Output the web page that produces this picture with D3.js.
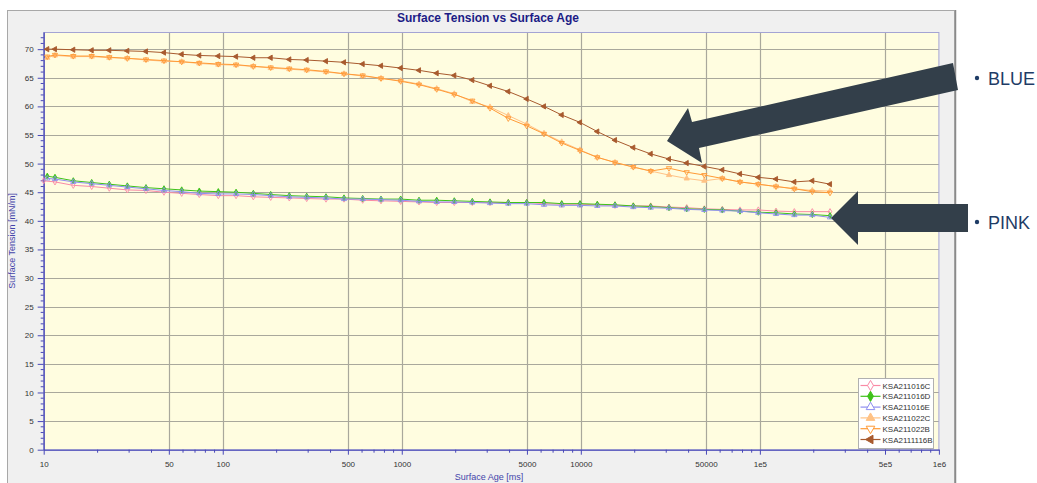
<!DOCTYPE html>
<html>
<head>
<meta charset="utf-8">
<script src="https://d3js.org/d3.v7.min.js"></script>
<style>
  body { margin: 0; background: #fff; }
  .chart text { font-family: "Liberation Sans", Arial, sans-serif; }
</style>
</head>
<body>
<div class="chart"></div>
<script>
// surface age in ms (shared by all runs)
var ages = [10.47, 11.56, 14.63, 18.54, 23.25, 29.31, 37.27, 46.97, 58.99, 73.97,
            94.45, 118.7, 148.2, 185.3, 235.4, 294.4, 377.3, 475.7, 604.9, 765.6,
            986, 1248, 1567, 1965, 2477, 3110, 3935, 4985, 6228, 7821,
            9895, 12360, 15520, 19640, 24570, 31080, 39030, 48950, 61700, 77460,
            98000, 123100, 155800, 196300, 246500];
// the first pink point sits right on the axis
var agesPink = [10].concat(ages.slice(1));

var seriesNames = ["KSA211016C", "KSA211016D", "KSA211016E", "KSA211022C", "KSA211022B", "KSA2111116B"];

var valsC16 = [47.0, 46.8, 46.2, 46.0, 45.7, 45.4, 45.3, 45.0, 44.8, 44.6,
               44.4, 44.4, 44.2, 44.1, 44.0, 43.9, 43.8, 43.8, 43.6, 43.5,
               43.4, 43.3, 43.2, 43.2, 43.2, 43.2, 43.2, 43.2, 43.0, 42.9,
               42.9, 42.8, 42.7, 42.6, 42.6, 42.4, 42.3, 42.1, 42.0, 41.9,
               41.9, 41.7, 41.6, 41.6, 41.6];
var valsD16 = [47.8, 47.6, 47.0, 46.7, 46.4, 46.1, 45.8, 45.6, 45.4, 45.2,
               45.1, 45.0, 44.8, 44.6, 44.4, 44.3, 44.2, 44.0, 43.9, 43.8,
               43.8, 43.6, 43.6, 43.5, 43.4, 43.3, 43.2, 43.2, 43.2, 43.0,
               43.0, 42.9, 42.8, 42.6, 42.5, 42.3, 42.1, 42.0, 41.9, 41.7,
               41.5, 41.4, 41.2, 41.1, 40.9];
var valsE16 = [47.4, 47.3, 46.8, 46.5, 46.2, 45.9, 45.6, 45.3, 45.1, 44.8,
               44.7, 44.7, 44.6, 44.4, 44.2, 44.1, 44.0, 43.8, 43.8, 43.7,
               43.6, 43.4, 43.3, 43.3, 43.2, 43.1, 43.0, 43.0, 42.8, 42.7,
               42.7, 42.6, 42.6, 42.4, 42.3, 42.2, 42.0, 41.9, 41.8, 41.7,
               41.4, 41.2, 41.0, 41.0, 40.6];
var valsC22 = [68.5, 68.9, 68.7, 68.7, 68.5, 68.4, 68.1, 67.9, 67.8, 67.5,
               67.3, 67.2, 67.0, 66.7, 66.5, 66.3, 66.0, 65.7, 65.3, 64.9,
               64.5, 63.9, 63.1, 62.2, 60.8, 59.9, 58.4, 56.9, 55.3, 53.8,
               52.4, 51.1, 50.2, 49.4, 48.7, 48.0, 47.4, 47.0, 47.4, 46.8,
               46.4, 46.0, 45.6, 45.3, 45.2];
var valsB22 = [68.7, 69.0, 68.8, 68.8, 68.6, 68.4, 68.2, 68.0, 67.8, 67.6,
               67.4, 67.3, 67.0, 66.8, 66.6, 66.4, 66.1, 65.7, 65.4, 64.9,
               64.4, 63.8, 63.0, 62.1, 61.0, 59.7, 57.9, 56.6, 55.2, 53.6,
               52.3, 51.1, 50.2, 49.4, 48.7, 49.2, 48.5, 48.0, 47.4, 46.8,
               46.4, 46.0, 45.6, 45.1, 44.9];
var valsB11 = [70.0, 70.0, 69.9, 69.8, 69.8, 69.7, 69.6, 69.4, 69.1, 68.9,
               68.8, 68.7, 68.5, 68.5, 68.2, 68.1, 67.9, 67.7, 67.4, 67.1,
               66.7, 66.3, 65.8, 65.4, 64.6, 63.6, 62.6, 61.3, 60.0, 58.5,
               57.2, 55.6, 54.1, 52.8, 51.7, 50.8, 50.1, 49.5, 48.9, 48.2,
               47.6, 47.3, 46.8, 47.0, 46.4];

var xTicks = [10, 50, 100, 500, 1000, 5000, 10000, 50000, 1e5, 5e5, 1e6];
var xTickLabels = ["10", "50", "100", "500", "1000", "5000", "10000", "50000", "1e5", "5e5", "1e6"];
var yTicks = [0, 5, 10, 15, 20, 25, 30, 35, 40, 45, 50, 55, 60, 65, 70];

var width = 1037;
var height = 483;
var plotLeft = 43.7, plotRight = 938.9, plotTop = 32, plotBottom = 449.7;

var series = [
  { name: seriesNames[0], x: agesPink, y: valsC16, color: "#f98aa6", shape: d3.symbolDiamond, rot: 0, filled: false },
  { name: seriesNames[1], x: ages, y: valsD16, color: "#3fc21a", shape: d3.symbolDiamond, rot: 0, filled: true },
  { name: seriesNames[2], x: ages, y: valsE16, color: "#8f8ff0", shape: d3.symbolTriangle, rot: 0, filled: false },
  { name: seriesNames[3], x: ages, y: valsC22, color: "#ffc285", shape: d3.symbolTriangle, rot: 0, filled: true },
  { name: seriesNames[4], x: ages, y: valsB22, color: "#ff9a35", shape: d3.symbolTriangle, rot: 180, filled: false },
  { name: seriesNames[5], x: ages, y: valsB11, color: "#a85a2e", shape: d3.symbolTriangle, rot: -90, filled: true }
];

var xScale = d3.scaleLog().domain([10, 1e6]).range([plotLeft, plotRight]);
var yScale = d3.scaleLinear().domain([0, 73]).range([plotBottom, plotTop]);

var svg = d3.select(".chart")
            .append("svg")
            .attr("width", width)
            .attr("height", height);

svg.append("rect").attr("width", width).attr("height", height).attr("fill", "#fff");

// gray chart panel
svg.append("rect")
   .attr("x", 7.5).attr("y", 10.5)
   .attr("width", 947).attr("height", 480)
   .attr("fill", "#f0f0f0")
   .attr("stroke", "#a8a8a8");
svg.append("line")
   .attr("x1", 955.5).attr("x2", 955.5).attr("y1", 10).attr("y2", height)
   .attr("stroke", "#8a8a8a").attr("stroke-width", 1.5);

svg.append("text")
   .attr("x", 488).attr("y", 22)
   .attr("text-anchor", "middle")
   .attr("font-size", "12px")
   .attr("font-weight", "bold")
   .attr("fill", "#1c1c86")
   .text("Surface Tension vs Surface Age");

// plot area
svg.append("rect")
   .attr("x", plotLeft).attr("y", plotTop)
   .attr("width", plotRight - plotLeft).attr("height", plotBottom - plotTop)
   .attr("fill", "#fffde0");

// grid
var gridX = xTicks.slice(1, -1);
svg.append("g").selectAll("line")
   .data(gridX).enter().append("line")
   .attr("x1", d => Math.round(xScale(d)) + 0.5).attr("x2", d => Math.round(xScale(d)) + 0.5)
   .attr("y1", plotTop).attr("y2", plotBottom)
   .attr("stroke", "#a9a89c").attr("stroke-width", 1.2);
svg.append("g").selectAll("line")
   .data(yTicks.slice(1)).enter().append("line")
   .attr("x1", plotLeft).attr("x2", plotRight)
   .attr("y1", d => Math.round(yScale(d)) + 0.5).attr("y2", d => Math.round(yScale(d)) + 0.5)
   .attr("stroke", "#a9a89c").attr("stroke-width", 1.2);

svg.append("rect")
   .attr("x", plotLeft).attr("y", plotTop + 0.5)
   .attr("width", plotRight - plotLeft).attr("height", plotBottom - plotTop)
   .attr("fill", "none")
   .attr("stroke", "#a4a4d4");

// axes
var xAxis = d3.axisBottom(xScale)
              .tickValues(xTicks)
              .tickFormat((d, i) => xTickLabels[i])
              .tickSizeInner(5).tickSizeOuter(0).tickPadding(7);
var yAxis = d3.axisLeft(yScale)
              .tickValues(yTicks)
              .tickSizeInner(6).tickSizeOuter(0).tickPadding(4);

var gx = svg.append("g")
   .attr("id", "x-axis")
   .attr("transform", "translate(0," + plotBottom + ")")
   .call(xAxis);
var gy = svg.append("g")
   .attr("id", "y-axis")
   .attr("transform", "translate(" + plotLeft + ",0)")
   .call(yAxis);

[gx, gy].forEach(function(g) {
  g.select(".domain").attr("stroke", "#4848b8").attr("stroke-width", 1.3);
  g.selectAll(".tick line").attr("stroke", "#4848b8");
  g.selectAll(".tick text").attr("fill", "#333").attr("font-size", "8px");
});

// minor ticks
var xMinor = [];
[10, 100, 1000, 10000, 1e5].forEach(function(dec) {
  [2, 3, 4, 6, 7, 8, 9].forEach(function(m) { xMinor.push(dec * m); });
});
svg.append("g").selectAll("line")
   .data(xMinor).enter().append("line")
   .attr("x1", d => xScale(d)).attr("x2", d => xScale(d))
   .attr("y1", plotBottom).attr("y2", plotBottom + 3)
   .attr("stroke", "#4848b8");
svg.append("g").selectAll("line")
   .data(d3.range(0, 73).filter(d => d % 5 !== 0)).enter().append("line")
   .attr("x1", plotLeft - 3).attr("x2", plotLeft)
   .attr("y1", d => yScale(d)).attr("y2", d => yScale(d))
   .attr("stroke", "#4848b8");

svg.append("text")
   .attr("transform", "translate(15," + ((plotTop + plotBottom) / 2) + ") rotate(-90)")
   .attr("text-anchor", "middle")
   .attr("font-size", "9px")
   .attr("fill", "#4444aa")
   .text("Surface Tension [mN/m]");
svg.append("text")
   .attr("x", 489).attr("y", 480)
   .attr("text-anchor", "middle")
   .attr("font-size", "9px")
   .attr("fill", "#4444aa")
   .text("Surface Age [ms]");

// series
var line = d3.line().x(d => xScale(d[0])).y(d => yScale(d[1]));
series.forEach(function(s) {
  var pts = s.x.map((a, i) => [a, s.y[i]]);
  var g = svg.append("g").attr("class", "series");
  g.append("path")
   .datum(pts)
   .attr("d", line)
   .attr("fill", "none")
   .attr("stroke", s.color)
   .attr("stroke-width", 1);
  g.selectAll("path.pt")
   .data(pts).enter().append("path")
   .attr("class", "pt")
   .attr("d", d3.symbol().type(s.shape).size(s.shape === d3.symbolDiamond ? 11 : 12))
   .attr("transform", d => "translate(" + xScale(d[0]) + "," + yScale(d[1]) + ") rotate(" + s.rot + ")")
   .attr("fill", s.filled ? s.color : "none")
   .attr("stroke", s.color)
   .attr("stroke-width", 0.9);
});

// legend
var legend = svg.append("g").attr("transform", "translate(858.5,378.5)");
legend.append("rect")
   .attr("width", 75).attr("height", 70)
   .attr("fill", "#fff")
   .attr("stroke", "#b0b0b0");
var rows = legend.selectAll("g.row")
   .data(series).enter().append("g")
   .attr("class", "row")
   .attr("transform", (d, i) => "translate(0," + (7 + i * 10.8) + ")");
rows.append("line")
   .attr("x1", 2).attr("x2", 22)
   .attr("stroke", d => d.color).attr("stroke-width", 1.2);
rows.append("path")
   .attr("d", d => d3.symbol().type(d.shape).size(d.shape === d3.symbolDiamond ? 30 : 32)())
   .attr("transform", d => "translate(12,0) rotate(" + d.rot + ")")
   .attr("fill", d => d.filled ? d.color : "#fff")
   .attr("stroke", d => d.color);
rows.append("text")
   .attr("x", 24).attr("y", 3)
   .attr("font-size", "8px")
   .attr("fill", "#333")
   .text(d => d.name);

// annotation arrows
svg.append("path")
   .attr("d", "M667,141 L688,108 L692,122 L953,63 L958,90 L699,148 L702,163 Z")
   .attr("fill", "#333f4a");
svg.append("path")
   .attr("d", "M831,218 L858,191 L858,204 L968,204 L968,232 L858,232 L858,245 Z")
   .attr("fill", "#333f4a");

var notes = [["BLUE", 78], ["PINK", 222]];
notes.forEach(function(n) {
  svg.append("circle").attr("cx", 977).attr("cy", n[1]).attr("r", 2.2).attr("fill", "#1f3c66");
  svg.append("text")
     .attr("x", 988).attr("y", n[1] + 6.5)
     .attr("font-family", "'Open Sans', 'Noto Sans', sans-serif")
     .attr("font-size", "18px")
     .attr("fill", "#1f3c66")
     .text(n[0]);
});
</script>
</body>
</html>
